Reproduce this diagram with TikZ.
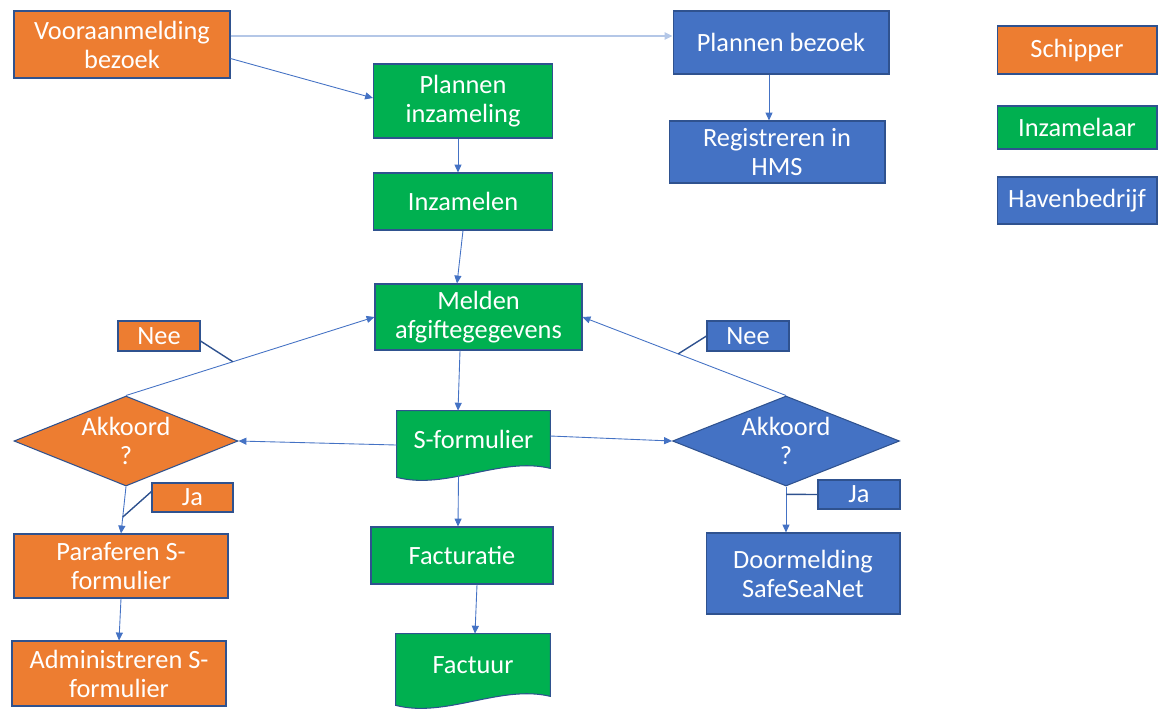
\documentclass[tikz,border=0pt]{standalone}
\usepackage{fontspec}
\setmainfont{Carlito}
\usepackage{tikz}
\usetikzlibrary{shapes.geometric,arrows.meta,calc,backgrounds}
\definecolor{schip}{HTML}{ED7D31}
\definecolor{inzam}{HTML}{00B050}
\definecolor{haven}{HTML}{4472C4}
\definecolor{rand}{HTML}{2F528F}
\definecolor{lijn}{HTML}{4472C4}
\definecolor{bleek}{HTML}{B4C7E7}
\tikzstyle{stap} = [rectangle, draw=rand, line width=0.6pt, text=white,
    align=center, inner sep=0pt, font=\fontsize{15}{16.5}\selectfont]
\tikzstyle{oranje} = [stap, fill=schip]
\tikzstyle{groen} = [stap, fill=inzam]
\tikzstyle{blauw} = [stap, fill=haven]
\tikzstyle{keuze} = [diamond, aspect=2.5, draw=rand, line width=0.6pt, text=white,
    align=center, inner sep=0pt, font=\fontsize{15}{16.5}\selectfont]
\tikzstyle{doc} = [rectangle, text=white, align=center, inner sep=0pt,
    font=\fontsize{15}{16.5}\selectfont]
\tikzstyle{pijl} = [draw=lijn, line width=0.5pt, -{Triangle[length=4.5pt,width=4pt]}]
\tikzstyle{wijzer} = [draw=rand, line width=0.8pt]

\begin{document}
\begin{tikzpicture}[x=0.02cm, y=-0.02cm]
    \useasboundingbox (0,0) rectangle (1162,708);

    % bovenste rij
    \node[oranje, minimum width=4.32cm, minimum height=1.34cm] (voor) at (122,44.5) {Vooraanmelding\\bezoek};
    \node[groen, minimum width=3.58cm, minimum height=1.48cm] (plaInz) at (463,101) {Plannen\\inzameling};
    \node[groen, minimum width=3.58cm, minimum height=1.14cm] (inzam) at (463,201.5) {Inzamelen};
    \node[blauw, minimum width=4.32cm, minimum height=1.26cm] (plaBez) at (781,42.5) {Plannen bezoek};
    \node[blauw, minimum width=4.32cm, minimum height=1.24cm] (reg) at (777,152) {Registreren in\\HMS};

    % legenda
    \node[oranje, minimum width=3.2cm, minimum height=0.96cm] (leg1) at (1077,50) {Schipper};
    \node[groen, minimum width=3.2cm, minimum height=0.86cm] (leg2) at (1077,127.5) {Inzamelaar};
    \node[blauw, minimum width=3.2cm, minimum height=0.94cm] (leg3) at (1077,200.5) {Havenbedrijf};

    % midden
    \node[groen, minimum width=4.14cm, minimum height=1.32cm] (melden) at (478.5,317) {Melden\\afgiftegegevens};
    \node[oranje, minimum width=1.64cm, minimum height=0.6cm] (neeL) at (159,336) {Nee};
    \node[blauw, minimum width=1.64cm, minimum height=0.6cm] (neeR) at (748,336) {Nee};
    \node[keuze, fill=schip, minimum width=4.48cm, minimum height=1.8cm] (akL) at (126,441) {Akkoord\\?};
    \node[keuze, fill=haven, minimum width=4.54cm, minimum height=1.8cm] (akR) at (786,441) {Akkoord\\?};
    \node[doc, minimum width=3.06cm, minimum height=1.14cm] (sform) at (473.5,439.5) {S-formulier};
    \node[oranje, minimum width=1.62cm, minimum height=0.58cm] (jaL) at (192.5,497.5) {Ja};
    \node[blauw, minimum width=1.64cm, minimum height=0.58cm] (jaR) at (859,494.5) {Ja};

    % onderste rij
    \node[oranje, minimum width=4.28cm, minimum height=1.28cm] (para) at (121,566) {Paraferen S-\\formulier};
    \node[groen, minimum width=3.64cm, minimum height=1.14cm] (fact) at (462,555.5) {Facturatie};
    \node[blauw, minimum width=3.88cm, minimum height=1.62cm] (door) at (803,573.5) {Doormelding\\SafeSeaNet};
    \node[oranje, minimum width=4.28cm, minimum height=1.3cm] (admin) at (119,673.5) {Administreren S-\\formulier};
    \node[doc, minimum width=3.08cm, minimum height=1.24cm] (factuur) at (473,665) {Factuur};

    % document-vormen
    \begin{pgfonlayer}{background}
        \filldraw[fill=inzam, draw=rand, line width=0.6pt] (sform.north west) -- (sform.north east)
            -- (sform.south east) .. controls ($(sform.south east)+(-50,-12)$) and ($(sform.south west)+(50,22)$)
            .. ($(sform.south west)+(0,9)$) -- cycle;
        \filldraw[fill=inzam, draw=rand, line width=0.6pt] (factuur.north west) -- (factuur.north east)
            -- (factuur.south east) .. controls ($(factuur.south east)+(-50,-12)$) and ($(factuur.south west)+(50,22)$)
            .. ($(factuur.south west)+(0,9)$) -- cycle;
    \end{pgfonlayer}

    % verbindingen
    \draw[pijl, draw=bleek, line width=1.2pt] ([yshift=0.17cm]voor.east) -- ([yshift=0.17cm]voor.east -| plaBez.west);
    \draw[pijl] ([yshift=-0.28cm]voor.east) -- ([yshift=0.06cm]plaInz.west);
    \draw[pijl] ([xshift=-0.1cm]plaInz.south) -- ([xshift=-0.1cm]inzam.north);
    \draw[pijl] ([xshift=-0.24cm]plaBez.south) -- ([xshift=-0.24cm]plaBez.south |- reg.north);
    \draw[pijl] (inzam.south) -- ([xshift=-0.43cm]melden.north);
    \draw[pijl] ([xshift=-0.37cm]melden.south) -- ([xshift=-0.31cm]sform.north);
    \draw[pijl] ([yshift=-0.11cm]sform.west) -- (akL.east);
    \draw[pijl] ([yshift=0.07cm]sform.east) -- (akR.west);
    \draw[pijl] (akL.north) -- (melden.west);
    \draw[pijl] (akR.north) -- (melden.east);
    \draw[pijl] (akL.south) -- (para.north);
    \draw[pijl] (akR.south) -- (akR.south |- door.north);
    \draw[pijl] ($(sform.south)+(-15,7)$) -- ([xshift=-0.08cm]fact.north);
    \draw[pijl] ([xshift=0.3cm]fact.south) -- ([xshift=0.04cm]factuur.north);
    \draw[pijl] (para.south) -- (admin.north);

    % wijzers bij Ja en Nee
    \coordinate (pNeeL) at ($(akL.north)!0.43!(melden.west)$);
    \coordinate (pNeeR) at ($(akR.north)!0.53!(melden.east)$);
    \coordinate (pJaL) at ($(akL.south)!0.65!(para.north)$);
    \coordinate (pJaR) at ($(akR.south)!0.17!(akR.south |- door.north)$);
    \draw[wijzer] ([yshift=-0.1cm]neeL.east) -- (pNeeL);
    \draw[wijzer] (neeR.west) -- (pNeeR);
    \draw[wijzer] ([yshift=0.12cm]jaL.west) -- (pJaL);
    \draw[wijzer] (jaR.west) -- (pJaR);
\end{tikzpicture}
\end{document}
